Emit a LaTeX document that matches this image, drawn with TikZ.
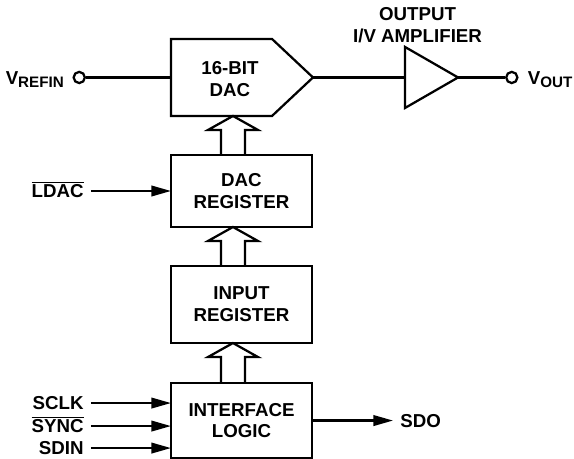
\documentclass[tikz,border=0pt]{standalone}
\usepackage{fontspec}
\setmainfont{Liberation Sans}
\usetikzlibrary{positioning, calc, arrows.meta, shapes.geometric}
\newcommand\blockfont{\fontsize{13.3pt}{15.6pt}\selectfont\bfseries}
\newcommand\vsub[1]{\raisebox{-2.2pt}{\fontsize{10.8pt}{12pt}\selectfont #1}}
% Bus large entre deux blocs (#1 bloc du bas, #2 bloc du haut)
\newcommand\busarrow[2]{%
    \draw[busLine] ($(#1.north west)+(50,0)$) |- ($(#2.south west)+(37,14)$)
        -- ($(#2.south west)+(62,0)$) -- ($(#2.south west)+(87,14)$)
        -| ($(#1.north west)+(74,0)$);}

\begin{document}
\begin{tikzpicture}[
        x=0.025cm, y=-0.025cm,
        % Blocs rectangulaires
        block/.style={
            draw,
            line width=1.6pt,
            minimum width=3.525cm,
            outer sep=0pt,
            align=center,
            font=\blockfont
        },
        % Corps du DAC (contour dessine a part)
        dacBody/.style={
            minimum width=2.525cm,
            minimum height=1.925cm,
            inner sep=0pt,
            outer sep=0pt
        },
        % Amplificateur de sortie
        amp/.style={
            isosceles triangle,
            isosceles triangle stretches,
            draw,
            line width=1.6pt,
            minimum height=1.325cm,
            minimum width=1.525cm,
            inner sep=0pt,
            outer sep=0pt
        },
        % Bornes
        term/.style={
            circle,
            draw,
            fill=white,
            line width=1.6pt,
            minimum size=0.28cm,
            inner sep=0pt
        },
        % Noms des broches
        pinLabel/.style={
            inner xsep=5pt,
            inner ysep=0pt,
            text height=9.5pt,
            text depth=0pt,
            font=\blockfont
        },
        titleLabel/.style={align=center, font=\blockfont},
        wire/.style={line width=1.6pt},
        sigArrow/.style={line width=1.6pt, -{Triangle[length=14pt, width=7.5pt]}},
        busLine/.style={line width=1.6pt, line join=miter}
    ]
    \useasboundingbox (0,0) rectangle (574,459);

    % Registres et logique
    \node[block, minimum height=1.8cm] (dacreg) at (241.5,191) {DAC\\REGISTER};
    \node[block, minimum height=1.925cm, below=0.975cm of dacreg] (inreg) {INPUT\\REGISTER};
    \node[block, minimum height=1.875cm, below=1cm of inreg] (iface) {INTERFACE\\LOGIC};

    % DAC 16 bits
    \node[dacBody, above=0.975cm of dacreg.north west, anchor=south west] (dac) {};
    \coordinate (dactip) at ($(dac.east)+(41,0)$);
    \draw[busLine] (dac.north west) -- (dac.north east) -- (dactip)
        -- (dac.south east) -- (dac.south west) -- cycle;
    \node[titleLabel] (daclabel) at ($(dac.center)+(8.5,2)$) {16-BIT\\DAC};

    % Amplificateur I/V
    \node[amp, right=2.3cm of dactip] (amp) {};
    \node[titleLabel] (amptitle) at ($(amp.west)+(12.5,-52.5)$) {OUTPUT\\I/V AMPLIFIER};

    % Bornes analogiques
    \node[term, left=2.125cm of dac] (vref) {};
    \node[pinLabel, left=1pt of vref] (vreflabel) {V\vsub{REFIN}};
    \node[term, right=1.175cm of amp] (vout) {};
    \node[pinLabel, right=1.5pt of vout] (voutlabel) {V\vsub{OUT}};

    % Broches numeriques
    \node[pinLabel, left=2cm of dacreg] (ldac) {$\overline{\mbox{LDAC}}$};
    \node[pinLabel, left=2cm of iface.west, yshift=0.4375cm] (sclk) {SCLK};
    \node[pinLabel, left=2cm of iface.west, yshift=-0.1375cm] (sync) {$\overline{\mbox{SYNC}}$};
    \node[pinLabel, left=2cm of iface.west, yshift=-0.6875cm] (sdin) {SDIN};
    \node[pinLabel, right=2.025cm of iface] (sdo) {SDO};

    % Liaisons analogiques
    \draw[wire] (vref) -- (dac);
    \draw[wire] (dactip) -- (amp);
    \draw[wire] (amp) -- (vout);

    % Bus internes
    \busarrow{dacreg}{dac}
    \busarrow{inreg}{dacreg}
    \busarrow{iface}{inreg}

    % Signaux de commande
    \draw[sigArrow] (ldac.east) -- (dacreg.west);
    \draw[sigArrow] (sclk.east) -- (sclk.east -| iface.west);
    \draw[sigArrow] (sync.east) -- (sync.east -| iface.west);
    \draw[sigArrow] (sdin.east) -- (sdin.east -| iface.west);
    \draw[sigArrow] (iface.east) -- (sdo.west);

\end{tikzpicture}
\end{document}
